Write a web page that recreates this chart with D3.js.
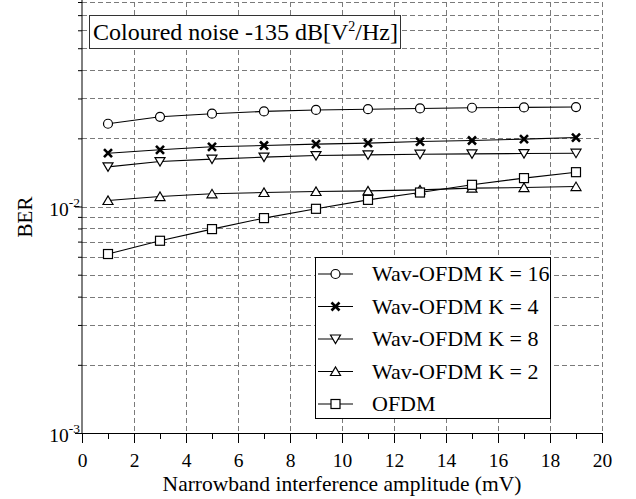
<!DOCTYPE html>
<html>
<head>
<meta charset="utf-8">
<script src="https://cdn.jsdelivr.net/npm/d3@7"></script>
<style>
  body { margin: 0; background: #fff; }
  svg { display: block; font-family: "Liberation Serif", "Times New Roman", serif; }
</style>
</head>
<body>
<svg id="chart" width="636" height="499"></svg>
<script>
(function () {
    'use strict';

    const WIDTH = 636;
    const HEIGHT = 499;

    // chart data
    const amplitudes = [1, 3, 5, 7, 9, 11, 13, 15, 17, 19];
    const seriesNames = ["Wav-OFDM K = 16", "Wav-OFDM K = 4", "Wav-OFDM K = 8", "Wav-OFDM K = 2", "OFDM"];
    const seriesMarkers = ["circle", "cross", "triDown", "triUp", "square"];
    const berK16 = [0.0232, 0.0249, 0.0257, 0.0263, 0.0267, 0.0269, 0.0271, 0.0273, 0.0274, 0.0275];
    const berK4 = [0.0172, 0.0178, 0.01835, 0.0186, 0.01886, 0.01905, 0.01936, 0.01956, 0.01984, 0.02016];
    const berK8 = [0.01496, 0.0158, 0.0162, 0.01652, 0.01679, 0.0169, 0.01702, 0.01708, 0.01714, 0.0172];
    const berK2 = [0.01063, 0.01107, 0.01138, 0.01153, 0.01165, 0.01173, 0.01185, 0.01206, 0.01213, 0.01225];
    const berOFDM = [0.00617, 0.00706, 0.00795, 0.00889, 0.00977, 0.0107, 0.01153, 0.01247, 0.01335, 0.01418];
    const seriesValues = [berK16, berK4, berK8, berK2, berOFDM];
    const xMajorTicks = [0, 2, 4, 6, 8, 10, 12, 14, 16, 18, 20];
    const xMinorTicks = [1, 3, 5, 7, 9, 11, 13, 15, 17, 19];
    const yMajorTicks = [1e-3, 1e-2];
    const yMinorTicks = [2e-3, 3e-3, 4e-3, 5e-3, 6e-3, 7e-3, 8e-3, 9e-3, 2e-2, 3e-2, 4e-2, 5e-2, 6e-2, 7e-2, 8e-2];
    const yTickExponents = ["-3", "-2"];
    const titleText = ["Coloured noise -135 dB[V", "2", "/Hz]"];
    const xLabel = "Narrowband interference amplitude (mV)";
    const yLabel = "BER";

    const margin = { left: 82, right: 602, top: 2, bottom: 433 };

    var x = d3.scaleLinear().domain([0, 20]).range([margin.left, margin.right]);
    var y = d3.scaleLog().domain([1e-3, 0.08]).range([margin.bottom, margin.top]);

    var svg = d3.select("#chart");

    // grid
    var grid = svg.append("g")
        .attr("stroke", "#7a7a7a")
        .attr("stroke-width", 1)
        .attr("stroke-dasharray", "5,3")
        .attr("shape-rendering", "crispEdges");

    grid.selectAll("line.h")
        .data(yMinorTicks.concat([1e-2]))
        .join("line")
        .attr("x1", margin.left).attr("x2", margin.right)
        .attr("y1", d => Math.round(y(d)) + 0.5).attr("y2", d => Math.round(y(d)) + 0.5);

    grid.selectAll("line.v")
        .data(xMajorTicks.slice(1))
        .join("line")
        .attr("x1", d => Math.round(x(d)) + 0.5).attr("x2", d => Math.round(x(d)) + 0.5)
        .attr("y1", margin.top).attr("y2", margin.bottom);

    // x axis
    var xAxisG = svg.append("g")
        .attr("transform", `translate(0,${margin.bottom})`)
        .call(d3.axisBottom(x).tickValues(xMajorTicks).tickSize(10).tickPadding(10).tickSizeOuter(0));
    svg.append("g")
        .attr("transform", `translate(0,${margin.bottom})`)
        .call(d3.axisBottom(x).tickValues(xMinorTicks).tickSize(6).tickFormat("").tickSizeOuter(0))
        .select(".domain").remove();
    xAxisG.selectAll("text")
        .attr("font-family", "Liberation Serif")
        .attr("font-size", 19.5)
        .attr("fill", "#000");

    // y axis
    var yAxisG = svg.append("g")
        .attr("transform", `translate(${margin.left},0)`)
        .call(d3.axisLeft(y).tickValues(yMajorTicks).tickSize(7).tickFormat("").tickSizeOuter(0));
    svg.append("g")
        .attr("transform", `translate(${margin.left},0)`)
        .call(d3.axisLeft(y).tickValues(yMinorTicks).tickSize(4).tickFormat("").tickSizeOuter(0))
        .select(".domain").remove();
    yAxisG.select(".domain").attr("d", `M0,0V${margin.bottom}`);

    var yLab = svg.append("g").selectAll("text")
        .data(yMajorTicks)
        .join("text")
        .attr("x", margin.left - 2)
        .attr("y", d => y(d) + 9)
        .attr("text-anchor", "end")
        .attr("font-size", 19.5);
    yLab.append("tspan").text("10");
    yLab.append("tspan")
        .attr("font-size", 13.5)
        .attr("dy", -9)
        .text((d, i) => yTickExponents[i]);

    svg.selectAll(".tick line, .domain").attr("stroke", "#000");

    // axis titles
    svg.append("text")
        .attr("x", (margin.left + margin.right) / 2)
        .attr("y", 491)
        .attr("text-anchor", "middle")
        .attr("font-size", 21.5)
        .text(xLabel);

    svg.append("text")
        .attr("transform", "translate(32,217) rotate(-90)")
        .attr("text-anchor", "middle")
        .attr("font-size", 21)
        .text(yLabel);

    // markers
    function drawMarker(g, type, cx, cy) {
        if (type === "circle") {
            g.append("circle").attr("cx", cx).attr("cy", cy).attr("r", 4.5)
                .attr("fill", "#fff").attr("stroke", "#000").attr("stroke-width", 1.2);
        } else if (type === "square") {
            g.append("rect").attr("x", cx - 4.5).attr("y", cy - 4.5).attr("width", 9).attr("height", 9)
                .attr("fill", "#fff").attr("stroke", "#000").attr("stroke-width", 1.2);
        } else if (type === "triDown") {
            g.append("path").attr("d", `M${cx - 5},${cy - 4}L${cx + 5},${cy - 4}L${cx},${cy + 4.5}Z`)
                .attr("fill", "#fff").attr("stroke", "#000").attr("stroke-width", 1.2);
        } else if (type === "triUp") {
            g.append("path").attr("d", `M${cx - 5},${cy + 4}L${cx + 5},${cy + 4}L${cx},${cy - 4.5}Z`)
                .attr("fill", "#fff").attr("stroke", "#000").attr("stroke-width", 1.2);
        } else if (type === "cross") {
            g.append("path").attr("d", `M${cx - 4},${cy - 4}L${cx + 4},${cy + 4}M${cx - 4},${cy + 4}L${cx + 4},${cy - 4}`)
                .attr("fill", "none").attr("stroke", "#000").attr("stroke-width", 2.6);
        }
    }

    var line = d3.line()
        .x((d, i) => x(amplitudes[i]))
        .y(d => y(d));

    var plot = svg.append("g");
    seriesValues.forEach(function (vals, s) {
        plot.append("path")
            .attr("d", line(vals))
            .attr("fill", "none")
            .attr("stroke", "#000")
            .attr("stroke-width", 1.1);
    });
    seriesValues.forEach(function (vals, s) {
        var g = plot.append("g");
        vals.forEach(function (v, i) {
            drawMarker(g, seriesMarkers[s], x(amplitudes[i]), y(v));
        });
    });

    // title box
    var tb = svg.append("g");
    tb.append("rect")
        .attr("x", 89.5).attr("y", 15.5).attr("width", 311).attr("height", 33)
        .attr("fill", "#fff").attr("stroke", "#333").attr("stroke-width", 1);
    var tt = tb.append("text")
        .attr("x", 93).attr("y", 40)
        .attr("font-size", 24);
    tt.append("tspan").text(titleText[0]);
    tt.append("tspan").attr("font-size", 14).attr("dy", -9).text(titleText[1]);
    tt.append("tspan").attr("dy", 9).text(titleText[2]);

    // legend
    var lg = svg.append("g");
    lg.append("rect")
        .attr("x", 315.5).attr("y", 257.5).attr("width", 235).attr("height", 161)
        .attr("fill", "#fff").attr("stroke", "#000").attr("stroke-width", 1);
    seriesNames.forEach(function (name, i) {
        var cy = 274 + i * 32.5;
        lg.append("line")
            .attr("x1", 318).attr("x2", 353)
            .attr("y1", cy).attr("y2", cy)
            .attr("stroke", "#000").attr("stroke-width", 1.1);
        drawMarker(lg, seriesMarkers[i], 335.5, cy);
        lg.append("text")
            .attr("x", 372).attr("y", cy + 7)
            .attr("font-size", 22)
            .text(name);
    });
})();
</script>
</body>
</html>
